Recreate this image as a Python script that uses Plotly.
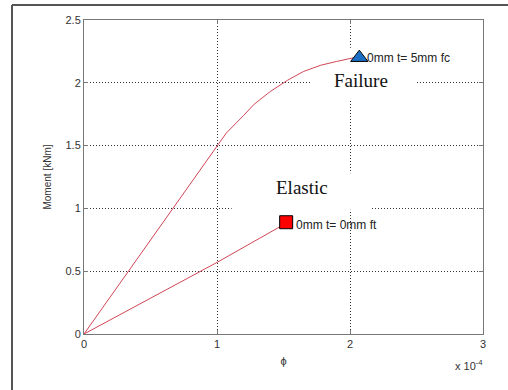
import plotly.graph_objects as go

# curvature values in units of 1e-4 (axis shows "x 10^-4")
fc_phi = [0, 0.5, 1.0, 1.07, 1.2, 1.28, 1.4, 1.53, 1.65, 1.78, 1.9, 2.03, 2.07]
fc_moment = [0, 0.745, 1.49, 1.6, 1.74, 1.83, 1.93, 2.02, 2.09, 2.14, 2.17, 2.2, 2.2]
ft_phi = [0, 0.5, 1.0, 1.5]
ft_moment = [0, 0.285, 0.57, 0.87]

fail_pt = (2.07, 2.2)
elastic_pt = (1.52, 0.89)
fail_label = "0mm t= 5mm fc"
elastic_label = "0mm t= 0mm ft"

line_col = "#d04656"
tick_font = dict(family="Liberation Sans, Arial", size=11, color="#333333")

fig = go.Figure()
fig.add_trace(go.Scatter(x=fc_phi, y=fc_moment, mode="lines",
                         line=dict(color=line_col, width=1), showlegend=False))
fig.add_trace(go.Scatter(x=ft_phi, y=ft_moment, mode="lines",
                         line=dict(color=line_col, width=1), showlegend=False))
fig.add_trace(go.Scatter(x=[fail_pt[0]], y=[fail_pt[1]], mode="markers",
                         marker=dict(symbol="triangle-up", size=15, color="#1a6fc4",
                                     line=dict(color="black", width=1)),
                         showlegend=False))
fig.add_trace(go.Scatter(x=[elastic_pt[0]], y=[elastic_pt[1]], mode="markers",
                         marker=dict(symbol="square", size=13, color="#ff0000",
                                     line=dict(color="black", width=1)),
                         showlegend=False))

# text labels
fig.add_annotation(x=fail_pt[0], y=fail_pt[1], xref="x", yref="y", text=fail_label,
                   showarrow=False, xanchor="left", xshift=6,
                   font=dict(family="Liberation Sans, Arial", size=12, color="#222222"))
fig.add_annotation(x=elastic_pt[0], y=elastic_pt[1], xref="x", yref="y", text=elastic_label,
                   showarrow=False, xanchor="left", yshift=-3, xshift=8,
                   font=dict(family="Liberation Sans, Arial", size=12, color="#222222"))
fig.add_annotation(x=2.08, y=2.02, xref="x", yref="y", text="Failure", showarrow=False,
                   font=dict(family="Liberation Serif, Times New Roman", size=19, color="#111111"))
fig.add_annotation(x=1.64, y=1.17, xref="x", yref="y", text="Elastic", showarrow=False,
                   font=dict(family="Liberation Serif, Times New Roman", size=19, color="#111111"))

# white boxes behind text labels hiding gridlines
fig.add_shape(type="rect", xref="x", yref="y", x0=1.71, x1=2.5, y0=1.86, y1=2.28,
              fillcolor="white", line=dict(width=0), layer="between")
fig.add_shape(type="rect", xref="x", yref="y", x0=1.11, x1=2.16, y0=0.99, y1=1.28,
              fillcolor="white", line=dict(width=0), layer="between")

# outer frame
fig.add_shape(type="line", xref="paper", yref="paper", x0=-72/399, x1=425/399,
              y0=(334-5)/314, y1=(334-5)/314, line=dict(color="#555555", width=2))
fig.add_shape(type="line", xref="paper", yref="paper", x0=-72/399, x1=-72/399,
              y0=(334-5)/314, y1=-60/314, line=dict(color="#555555", width=2))

fig.add_annotation(x=1, y=0, xref="paper", yref="paper", text="x 10<sup>-4</sup>",
                   showarrow=False, xanchor="right", yanchor="top", yshift=-22, xshift=2,
                   font=dict(family="Liberation Sans, Arial", size=11, color="#333333"))

axis_common = dict(showgrid=True, gridcolor="#333333", griddash="1px,2px", gridwidth=1,
                   showline=True, linecolor="#777777", linewidth=1, mirror="allticks",
                   ticks="inside", ticklen=4, tickcolor="#777777", zeroline=False,
                   tickfont=tick_font)
fig.update_xaxes(range=[0, 3], tickvals=[0, 1, 2, 3], ticktext=["0", "1", "2", "3"],
                 title=dict(text="ϕ", font=dict(family="Liberation Sans, Arial", size=11,
                                                 color="#333333"), standoff=8),
                 **axis_common)
fig.update_yaxes(range=[0, 2.5], tickvals=[0, 0.5, 1, 1.5, 2, 2.5],
                 ticktext=["0", "0.5", "1", "1.5", "2", "2.5"],
                 title=dict(text="Moment [kNm]", font=dict(family="Liberation Sans, Arial",
                                                          size=10, color="#333333"), standoff=12),
                 **axis_common)

fig.update_layout(width=508, height=390, margin=dict(l=84, r=25, t=20, b=56),
                  paper_bgcolor="white", plot_bgcolor="white", showlegend=False)

fig.write_html("out.html")
